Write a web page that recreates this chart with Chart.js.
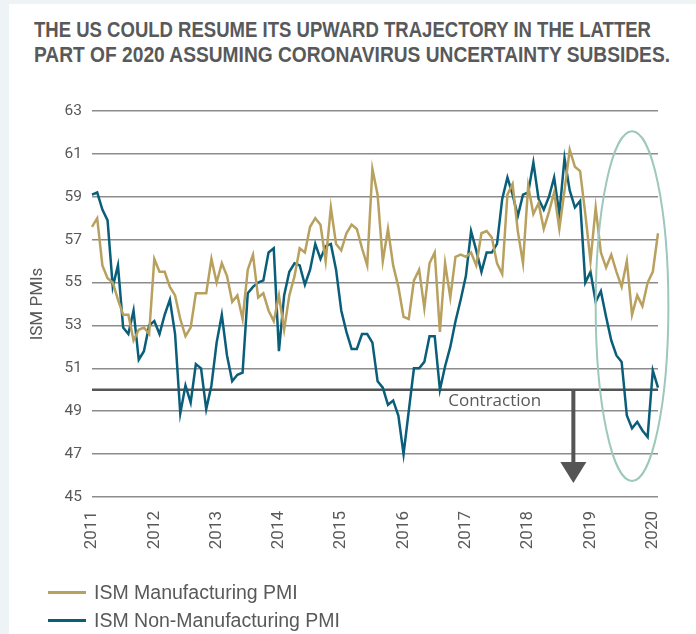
<!DOCTYPE html>
<html>
<head>
<meta charset="utf-8">
<script src="https://cdn.jsdelivr.net/npm/chart.js@4"></script>
<style>
  html, body { margin: 0; padding: 0; }
  body { width: 696px; height: 634px; background: #eef3f6; position: relative; overflow: hidden; }
  .card { position: absolute; left: 9px; top: 4px; right: 0; bottom: 0; background: #fff; }
  .tline {
    position: absolute; left: 34px;
    font-family: "Liberation Sans", Arial, sans-serif;
    font-weight: bold; font-size: 22px; line-height: 25px; color: #58595b;
    white-space: nowrap; transform-origin: 0 0;
  }
  #wrap { position: absolute; left: 0; top: 0; width: 696px; height: 634px; }
  #legend { position: absolute; left: 48px; top: 578px; font-family: "Liberation Sans", Arial, sans-serif; font-size: 19.5px; color: #58595b; }
  #legend div { height: 28px; display: flex; align-items: center; }
  #legend span.sw { display: inline-block; width: 38px; height: 3px; margin-right: 8px; }
</style>
</head>
<body>
<div class="card"></div>
<div class="tline" id="t1" style="top:17px">THE US COULD RESUME ITS UPWARD TRAJECTORY IN THE LATTER</div>
<div class="tline" id="t2" style="top:42px">PART OF 2020 ASSUMING CORONAVIRUS UNCERTAINTY SUBSIDES.</div>
<div id="wrap"><canvas id="chart"></canvas></div>
<div id="legend">
  <div><span class="sw" style="background:#b8a05f"></span>ISM Manufacturing PMI</div>
  <div><span class="sw" style="background:#0a5e7a"></span>ISM Non-Manufacturing PMI</div>
</div>
<script>
// monthly, Jan 2011 - Feb 2020
const years = [2011, 2012, 2013, 2014, 2015, 2016, 2017, 2018, 2019, 2020];
const months = [];
years.forEach(y => { for (let m = 1; m <= 12; m++) months.push(y + '-' + String(m).padStart(2, '0')); });
months.length = 110;

const manufacturing = [
  57.6, 58.0, 55.8, 55.2, 55.0, 54.2, 53.5, 53.5, 52.3, 52.8, 52.9, 52.6,
  56.1, 55.5, 55.5, 54.8, 54.4, 53.3, 52.5, 52.9, 54.5, 54.5, 54.5, 56.1,
  55.0, 55.9, 55.3, 54.1, 54.4, 53.3, 55.6, 56.3, 54.3, 54.5, 53.7, 53.2,
  54.4, 52.8, 54.4, 55.3, 56.6, 56.4, 57.6, 58.0, 57.7, 56.0, 58.5, 56.8,
  56.5, 57.3, 57.7, 57.5, 56.6, 55.8, 60.3, 59.1, 56.0, 57.5, 55.8, 54.8,
  53.4, 53.3, 55.1, 55.6, 53.8, 55.9, 56.4, 52.7, 55.9, 54.3, 56.2, 56.3,
  56.2, 56.4, 55.8, 57.3, 57.4, 57.1, 55.9, 55.4, 59.1, 59.6, 57.4, 55.9,
  59.5, 58.2, 58.7, 57.5, 58.3, 59.2, 57.5, 59.3, 61.2, 60.4, 60.2, 58.2,
  56.0, 58.5, 56.4, 55.7, 56.3, 55.5, 54.8, 56.0, 53.5, 54.4, 53.9, 55.0,
  55.5, 57.3
];
const nonManufacturing = [
  59.1, 59.2, 58.4, 57.9, 54.8, 55.8, 52.9, 52.6, 53.7, 51.4, 51.8, 53.0,
  53.2, 52.6, 53.5, 54.2, 52.6, 48.9, 50.2, 49.4, 51.2, 51.0, 49.1, 50.2,
  52.2, 53.5, 51.6, 50.4, 50.7, 50.8, 54.5, 54.8, 55.0, 55.1, 56.4, 56.6,
  51.8, 54.4, 55.5, 55.9, 55.8, 54.9, 55.6, 56.8, 56.1, 56.7, 56.8, 55.6,
  53.7, 52.7, 51.9, 51.9, 52.6, 52.6, 52.2, 50.4, 50.1, 49.3, 49.5, 48.8,
  47.0, 49.0, 51.0, 51.0, 51.3, 52.5, 52.5, 50.0, 51.1, 52.0, 53.2, 54.2,
  55.3, 57.4, 56.5, 55.5, 56.4, 56.4, 56.8, 58.9, 59.9, 59.1, 58.1, 59.1,
  59.2, 60.6, 58.9, 58.4, 59.0, 59.9, 58.2, 60.8, 59.3, 58.5, 58.8, 55.0,
  55.5, 54.1, 54.6, 53.4, 52.3, 51.6, 51.3, 48.8, 48.2, 48.5, 48.1, 47.8,
  50.9, 50.1
];
const yTicks = [45, 47, 49, 51, 53, 55, 57, 59, 61, 63];
const contractionLevel = 50;

const GOLD = '#b8a05f';
const TEAL = '#0a5e7a';
const TEXT = '#58595b';

// squeeze each title line to the width it has in the original
[['t1', 617], ['t2', 636]].forEach(([id, w]) => {
  const el = document.getElementById(id);
  el.style.transform = 'scaleX(' + (w / el.getBoundingClientRect().width) + ')';
});

const annotate = {
  id: 'annotate',
  beforeDatasetsDraw(chart) {
    const { ctx, chartArea, scales: { y } } = chart;
    const y50 = y.getPixelForValue(contractionLevel);
    ctx.save();
    ctx.strokeStyle = '#555';
    ctx.lineWidth = 2.5;
    ctx.beginPath();
    ctx.moveTo(chartArea.left, y50);
    ctx.lineTo(chartArea.right, y50);
    ctx.stroke();
    ctx.restore();
  },
  afterDatasetsDraw(chart) {
    const { ctx, scales: { x, y } } = chart;
    ctx.save();
    // label
    ctx.fillStyle = TEXT;
    ctx.font = '17px "Open Sans", sans-serif';
    ctx.textBaseline = 'alphabetic';
    ctx.fillText('Contraction', x.getPixelForValue(68.6), y.getPixelForValue(49.25));
    // arrow
    const ax = x.getPixelForValue(92.7);
    const y0 = y.getPixelForValue(contractionLevel);
    const tip = y.getPixelForValue(45.65);
    ctx.fillStyle = '#555';
    ctx.fillRect(ax - 2, y0, 4, tip - y0 - 20);
    ctx.beginPath();
    ctx.moveTo(ax - 13, tip - 21);
    ctx.lineTo(ax + 13, tip - 21);
    ctx.lineTo(ax, tip);
    ctx.closePath();
    ctx.fill();
    // ellipse
    const cx = x.getPixelForValue(104);
    const cy = y.getPixelForValue(53.9);
    const rx = x.getPixelForValue(111) - cx;
    const ry = cy - y.getPixelForValue(62.05);
    ctx.strokeStyle = '#9dc8bb';
    ctx.lineWidth = 2;
    ctx.beginPath();
    ctx.ellipse(cx, cy, rx, ry, 0, 0, Math.PI * 2);
    ctx.stroke();
    ctx.restore();
  }
};

new Chart(document.getElementById('chart'), {
  type: 'line',
  data: {
    labels: months,
    datasets: [
      { label: 'ISM Manufacturing PMI', data: manufacturing, borderColor: GOLD, borderWidth: 2.5, pointRadius: 0, tension: 0 },
      { label: 'ISM Non-Manufacturing PMI', data: nonManufacturing, borderColor: TEAL, borderWidth: 2.5, pointRadius: 0, tension: 0 }
    ]
  },
  options: {
    responsive: true,
    maintainAspectRatio: false,
    animation: false,
    layout: { padding: { left: 24, top: 111, right: 38, bottom: 67 } },
    plugins: { legend: { display: false }, tooltip: { enabled: false } },
    scales: {
      x: {
        grid: { display: false },
        border: { display: false },
        ticks: {
          autoSkip: false, minRotation: 90, maxRotation: 90, padding: 6,
          color: TEXT, font: { family: 'Roboto', size: 17 },
          callback: (v, i) => months[i].endsWith('-01') ? months[i].slice(0, 4) : null
        },
        afterFit: (s) => { s.height = 70; }
      },
      y: {
        min: 45, max: 63,
        afterBuildTicks: (s) => { s.ticks = yTicks.map(v => ({ value: v })); },
        grid: { color: '#8c8c8c', lineWidth: 1.5, drawTicks: false },
        border: { display: false },
        ticks: { padding: 10, color: TEXT, font: { family: 'Roboto', size: 15.5 } },
        title: { display: true, text: 'ISM PMIs', color: TEXT, font: { family: 'Roboto', size: 17 } },
        afterFit: (s) => { s.width = 68; }
      }
    }
  },
  plugins: [annotate]
});
</script>
</body>
</html>
